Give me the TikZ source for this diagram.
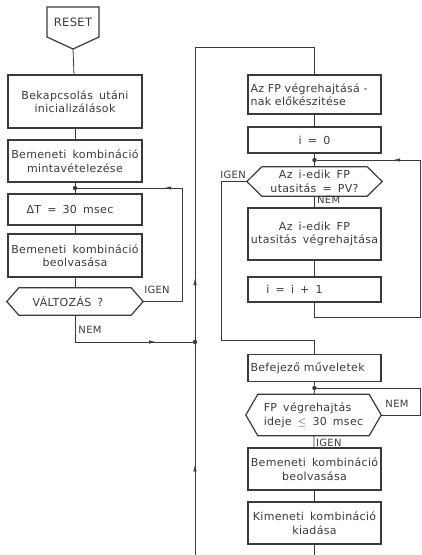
\documentclass[tikz,border=0pt]{standalone}
\usepackage{fontspec}
\setmainfont{DejaVu Sans}[LetterSpace=3.0, WordSpace=1.6]
\usetikzlibrary{decorations.markings,arrows.meta}
\definecolor{ink}{HTML}{3A3A3A}
\tikzset{
  box/.style={draw=ink, line width=1.2pt, minimum width=134pt, text=ink, inner sep=2pt,
              font=\fontsize{11}{13.5}\selectfont, align=center},
  hexnode/.style={inner sep=0pt, text=ink, font=\fontsize{11}{13.5}\selectfont, align=center},
  conn/.style={draw=ink, line width=0.8pt},
  lbl/.style={text=ink, font=\fontsize{10}{11}\selectfont, inner sep=1pt},
  dot/.style={circle, fill=ink, inner sep=0pt, minimum size=4.5pt},
  midarr/.style={postaction={decorate}, decoration={markings,
     mark=at position #1 with {\arrow{Latex[length=7pt,width=3.5pt]}}}}
}
\newcommand{\hexdraw}[2]{%
  \draw[draw=ink, line width=1.2pt] (#1.west) -- ([xshift=#2]#1.north west) -- ([xshift=-#2]#1.north east)
    -- (#1.east) -- ([xshift=-#2]#1.south east) -- ([xshift=#2]#1.south west) -- cycle;}
\begin{document}
\begin{tikzpicture}[x=1pt,y=-1pt]
\useasboundingbox (0,0) rectangle (421,555);
% ---------- left column ----------
\node[text=ink, font=\fontsize{11.5}{13}\selectfont] (reset) at (73,22) {RESET};
\draw[draw=ink, line width=1.2pt] (47,7) -- (99,7) -- (99,37) -- (73,49) -- (47,37) -- cycle;
\coordinate (resetb) at (73,49);
\node[box, minimum height=53pt] (b1) at (75,101.5) {Bekapcsolás utáni\\inicializálások};
\node[box, minimum height=42pt] (b2) at (75,161) {Bemeneti kombináció\\mintavételezése};
\node[dot] (j1) at (75,188) {};
\node[box, minimum height=31pt] (dt) at (75,209.5) {ΔT = 30 msec\hspace*{10pt}};
\node[box, minimum height=43pt] (b3) at (75,255.5) {Bemeneti kombináció\\beolvasása};
\node[hexnode, minimum width=136pt, minimum height=27pt] (h1) at (75,301.5) {VÁLTOZÁS ?\hspace*{14pt}};
\hexdraw{h1}{12pt}
\coordinate (c1) at (182,301.5);
\coordinate (c2) at (182,188);
\coordinate (c3) at (75,342);
\node[dot] (j2) at (195,342) {};
\node[lbl] at (157,290) {IGEN};
\node[lbl] at (90,330) {NEM};
% ---------- main return line ----------
\coordinate (m0) at (195,555);
\coordinate (m1) at (195,47);
\coordinate (m2) at (314.5,47);
% ---------- right column ----------
\node[box, minimum width=133pt, minimum height=39pt, align=left, text width=128pt] (f1) at (314.5,94.5) {Az FP végrehajtásá -\\nak előkészitése};
\node[box, minimum width=133pt, minimum height=26pt] (i0) at (314.5,140) {i = 0};
\node[dot] (j3) at (314.5,160) {};
\node[hexnode, minimum width=135pt, minimum height=29pt] (h2) at (314.5,181.5) {Az i-edik FP\\utasitás = PV?};
\hexdraw{h2}{15pt}
\node[box, minimum width=133pt, minimum height=52pt] (f2) at (314.5,234) {Az i-edik FP\\utasitás végrehajtása};
\node[box, minimum width=133pt, minimum height=25pt] (ii) at (314.5,289.5) {i = i + 1\hspace*{40pt}};
\coordinate (r1) at (314.5,317);
\coordinate (r2) at (420,317);
\coordinate (r3) at (420,160);
\coordinate (g1) at (221,181.5);
\coordinate (g2) at (221,340);
\coordinate (g3) at (314.5,340);
\node[lbl, anchor=south east] at (247,180) {IGEN};
\node[lbl, anchor=north west] at (316,195.5) {NEM};
\node[box, minimum width=133pt, minimum height=27pt, align=left, text width=128pt] (bf) at (314.5,368) {Befejező műveletek};
\node[dot] (j4) at (314.5,388) {};
\node[hexnode, minimum width=135pt, minimum height=41pt, align=left] (h3) at (313.5,415) {FP végrehajtás\\ideje $\leq$ 30 msec};
\hexdraw{h3}{12pt}
\coordinate (n1) at (420,415);
\coordinate (n2) at (420,388);
\node[lbl] at (397,404) {NEM};
\node[lbl, anchor=west] at (315,443) {IGEN};
\node[box, minimum width=133pt, minimum height=42pt] (b4) at (314.5,469) {Bemeneti kombináció\\beolvasása};
\node[box, minimum width=133pt, minimum height=42pt] (b5) at (314.5,523) {Kimeneti kombináció\\kiadása};
\coordinate (e1) at (314.5,555);
% ---------- connectors ----------
\draw[conn] (resetb) -- (b1);
\draw[conn] (b1) -- (b2);
\draw[conn] (b2) -- (j1) -- (dt);
\draw[conn] (dt) -- (b3);
\draw[conn] (b3) -- (h1);
\draw[conn] (h1.east) -- (c1) -- (c2);
\draw[conn, midarr=0.17] (c2) -- (j1);
\draw[conn] (h1.south) -- (c3);
\draw[conn, midarr=0.69] (c3) -- (j2);
\draw[conn, midarr=0.43] (m0) -- (j2);
\draw[conn, midarr=0.21] (j2) -- (m1);
\draw[conn] (m1) -- (m2) -- (f1);
\draw[conn] (f1) -- (i0);
\draw[conn] (i0) -- (j3) -- (h2);
\draw[conn] (h2) -- (f2);
\draw[conn] (f2) -- (ii);
\draw[conn] (ii) -- (r1) -- (r2) -- (r3);
\draw[conn, midarr=0.26] (r3) -- (j3);
\draw[conn] (h2.west) -- (g1) -- (g2) -- (g3) -- (bf);
\draw[conn] (bf) -- (j4) -- (h3);
\draw[conn] (h3.east) -- (n1) -- (n2) -- (j4);
\draw[conn] (h3) -- (b4);
\draw[conn] (b4) -- (b5);
\draw[conn] (b5) -- (e1);
\end{tikzpicture}
\end{document}
